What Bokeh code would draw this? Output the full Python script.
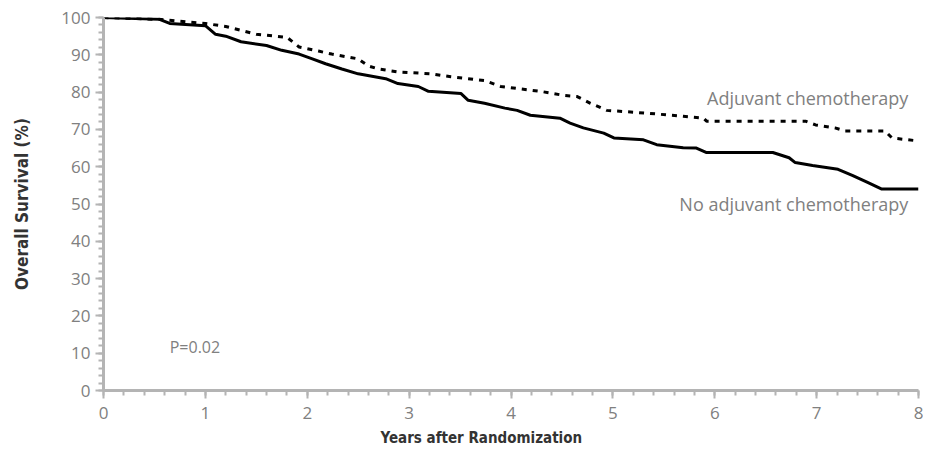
from bokeh.plotting import figure
from bokeh.models import Range1d, FixedTicker, Label, Title
from bokeh.embed import file_html
from bokeh.resources import INLINE

# --- data ---
years_no = [0, 0.55, 0.65, 1.0, 1.1, 1.2, 1.35, 1.6, 1.75, 1.92, 2.05, 2.18, 2.34, 2.5,
            2.77, 2.89, 3.09, 3.19, 3.51, 3.58, 3.74, 3.94, 4.06, 4.19, 4.48, 4.58,
            4.71, 4.91, 5.01, 5.3, 5.43, 5.69, 5.82, 5.92, 6.57, 6.73, 6.79, 6.96,
            7.21, 7.35, 7.5, 7.64, 8.0]
surv_no = [100, 99.5, 98.4, 97.8, 95.5, 95.0, 93.5, 92.5, 91.2, 90.2, 88.9, 87.6, 86.2, 84.9,
           83.6, 82.3, 81.5, 80.2, 79.6, 77.8, 77.0, 75.7, 75.1, 73.8, 73.0, 71.7,
           70.4, 69.0, 67.7, 67.2, 65.9, 65.1, 65.0, 63.8, 63.8, 62.4, 61.1, 60.3,
           59.3, 57.7, 55.8, 54.0, 54.0]

years_adj = [0, 0.55, 1.0, 1.2, 1.5, 1.8, 1.92, 2.11, 2.24, 2.5, 2.6, 2.7, 2.89, 3.22,
             3.41, 3.74, 3.9, 4.29, 4.52, 4.65, 4.78, 4.94, 5.36, 5.69, 5.89, 5.92,
             6.89, 6.99, 7.18, 7.28, 7.67, 7.74, 8.0]
surv_adj = [100, 99.5, 98.4, 97.6, 95.5, 94.7, 92.1, 91.0, 90.2, 88.9, 87.0, 86.2, 85.4, 84.9,
            84.1, 83.1, 81.5, 80.2, 79.1, 78.8, 77.0, 75.1, 74.3, 73.5, 73.0, 72.2,
            72.2, 71.2, 70.4, 69.6, 69.6, 67.7, 66.9]

x_ticks = [0, 1, 2, 3, 4, 5, 6, 7, 8]
y_ticks = [0, 10, 20, 30, 40, 50, 60, 70, 80, 90, 100]
label_adj = "Adjuvant chemotherapy"
label_no = "No adjuvant chemotherapy"
p_text = "P=0.02"
x_title = "Years after Randomization"
y_title = "Overall Survival (%)"

FONT = "Open Sans"
TITLE_FONT = "DejaVu Sans Condensed"
GRAY = "#808080"
AXIS = "#b4b4b4"

p = figure(width=923, height=450, output_backend="svg", toolbar_location=None,
           x_range=Range1d(0, 8), y_range=Range1d(0, 100),
           min_border_left=103, min_border_right=5, min_border_top=17, min_border_bottom=60,
           frame_width=815, frame_height=373)
p.outline_line_color = None
p.xgrid.visible = False
p.ygrid.visible = False
p.background_fill_color = "white"
p.border_fill_color = "white"

p.line(years_adj, surv_adj, line_color="black", line_width=3, line_dash="5 6")
p.line(years_no, surv_no, line_color="black", line_width=3)

for ax in (p.xaxis[0], p.yaxis[0]):
    ax.axis_line_color = AXIS
    ax.axis_line_width = 3
    ax.major_tick_line_color = AXIS
    ax.major_tick_line_width = 2
    ax.minor_tick_line_color = AXIS
    ax.minor_tick_line_width = 2
    ax.major_tick_in = 0
    ax.major_tick_out = 8
    ax.minor_tick_in = 0
    ax.minor_tick_out = 5
    ax.major_label_text_font = FONT
    ax.major_label_text_font_size = "17px"
    ax.major_label_text_color = GRAY

p.xaxis.ticker = FixedTicker(ticks=x_ticks, minor_ticks=[i * 0.2 for i in range(41)])
p.yaxis.ticker = FixedTicker(ticks=y_ticks, minor_ticks=[i * 2 for i in range(51)])
p.xaxis.major_label_standoff = 8
p.yaxis.major_label_standoff = 5

p.yaxis.axis_label = y_title
p.yaxis.axis_label_text_font = TITLE_FONT
p.yaxis.axis_label_text_font_style = "bold"
p.yaxis.axis_label_text_font_size = "17px"
p.yaxis.axis_label_text_color = "#333333"
p.yaxis.axis_label_standoff = 26

p.add_layout(Title(text=x_title, align="left", offset=277, standoff=11,
                   text_font=TITLE_FONT, text_font_style="bold", text_font_size="15px",
                   text_color="#333333"), "below")

p.add_layout(Label(x=7.9, y=78.3, text=label_adj, text_align="right", text_baseline="middle",
                   text_font=FONT, text_font_size="18px", text_color=GRAY))
p.add_layout(Label(x=7.9, y=50.0, text=label_no, text_align="right", text_baseline="middle",
                   text_font=FONT, text_font_size="18px", text_color=GRAY))
p.add_layout(Label(x=0.65, y=11.6, text=p_text, text_align="left", text_baseline="middle",
                   text_font=FONT, text_font_size="16px", text_color=GRAY))

open("out.html", "w").write(file_html(p, INLINE))
